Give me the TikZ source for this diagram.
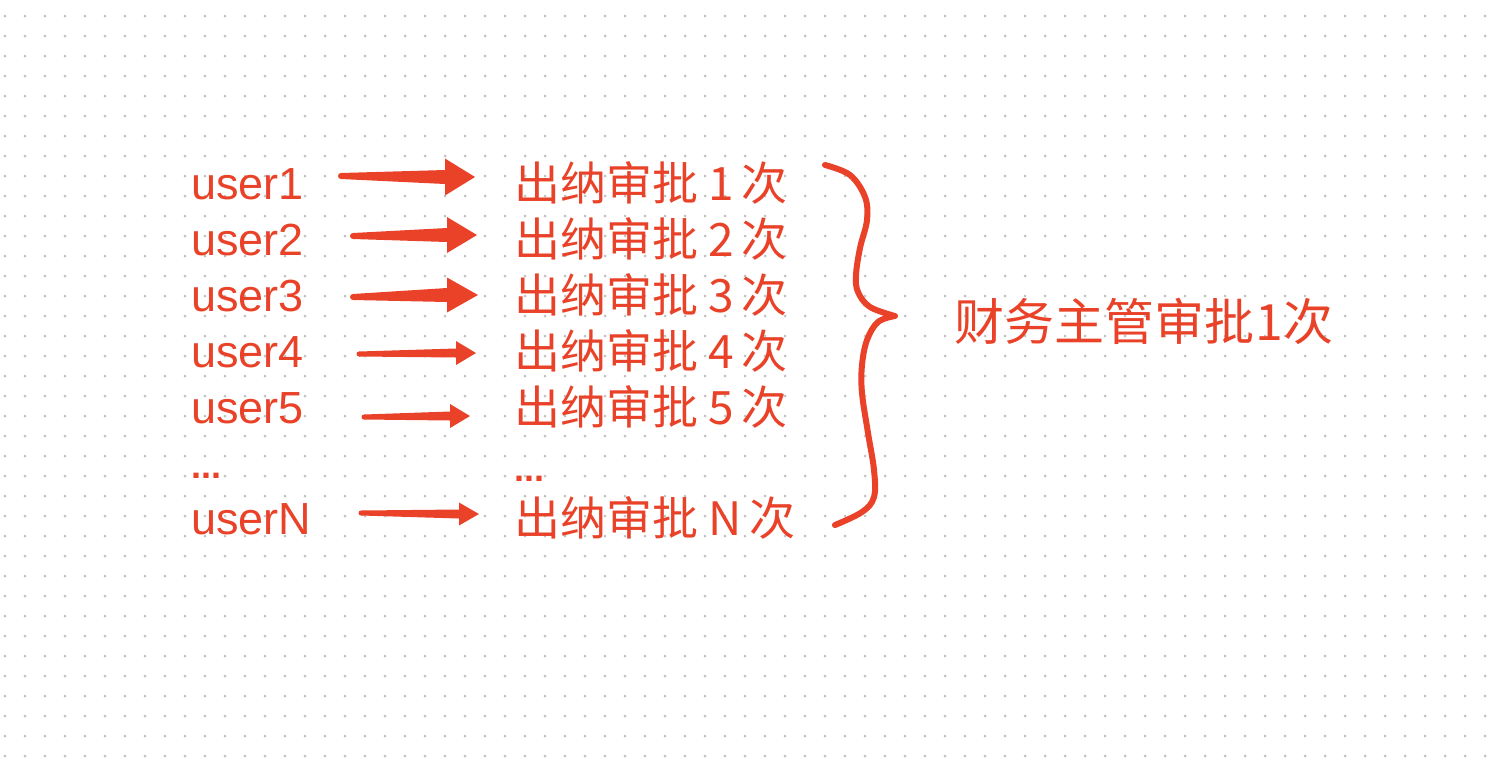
\documentclass[tikz,border=0pt]{standalone}
\usepackage{fontspec}
\setmainfont{Liberation Sans}
\newfontfamily\cjk{Noto Sans CJK SC}
\usetikzlibrary{calc}
\definecolor{accent}{RGB}{233,66,40}
\definecolor{griddot}{RGB}{192,192,192}
\newcommand\taperarrow[6]{% start, tip, start width, shaft width at head, half head height, head length
  \fill[accent] (#1) circle[radius=#3pt/2];
  \fill[accent] let \p1=(#1), \p2=(#2) in
    (\x1,{\y1+#3pt/2}) -- ({\x2-#6pt},{\y2+#4pt/2}) -- ({\x2-#6pt},{\y2+#5pt})
    -- (\x2,\y2) -- ({\x2-#6pt},{\y2-#5pt}) -- ({\x2-#6pt},{\y2-#4pt/2})
    -- (\x1,{\y1-#3pt/2}) -- cycle;
}
\tikzset{
  usertxt/.style={text=accent, inner sep=0pt, anchor=base west, font=\fontsize{45}{45}\selectfont},
  cjktxt/.style={text=accent, inner sep=0pt, anchor=base west, font=\cjk\fontsize{46}{46}\selectfont},
  bigtxt/.style={text=accent, inner sep=0pt, anchor=base west, font=\cjk\fontsize{50}{50}\selectfont},
  dotstxt/.style={text=accent, inner sep=0pt, anchor=base west, font=\bfseries\fontsize{36}{36}\selectfont},
  bracestroke/.style={draw=accent, line width=6pt, line cap=round, line join=round}
}
\begin{document}
\begin{tikzpicture}[x=1pt,y=-1pt]
\useasboundingbox (0,0) rectangle (1498,764);
\fill[white] (0,0) rectangle (1498,764);
\foreach \i in {0,...,74}{\foreach \j in {0,...,37}{\fill[griddot] (5+20*\i,16+20*\j) circle[radius=1.5pt];}}

% left column
\node[usertxt] (u1) at (191,199) {user1};
\node[usertxt] (u2) at (191,255) {user2};
\node[usertxt] (u3) at (191,311) {user3};
\node[usertxt] (u4) at (191,367) {user4};
\node[usertxt] (u5) at (191,423) {user5};
\node[dotstxt] (ud) at (191,478) {...};
\node[usertxt] (uN) at (191,534) {userN};

% right column
\node[cjktxt] (c1) at (514,200) {出纳审批\hspace{10pt}1\hspace{8pt}次};
\node[cjktxt] (c2) at (514,256) {出纳审批\hspace{10pt}2\hspace{8pt}次};
\node[cjktxt] (c3) at (514,312) {出纳审批\hspace{10pt}3\hspace{8pt}次};
\node[cjktxt] (c4) at (514,368) {出纳审批\hspace{10pt}4\hspace{8pt}次};
\node[cjktxt] (c5) at (514,424) {出纳审批\hspace{10pt}5\hspace{8pt}次};
\node[dotstxt] (cd) at (514,481) {...};
\node[cjktxt] (cN) at (514,535) {出纳审批\hspace{10pt}N\hspace{8pt}次};

% summary
\node[bigtxt] (boss) at (954,340) {财务主管审批\hspace{1pt}1\hspace{1pt}次};

% arrow end points
\coordinate (a1s) at (341,176); \coordinate (a1e) at (475,177);
\coordinate (a2s) at (353,236); \coordinate (a2e) at (477,235);
\coordinate (a3s) at (353,297); \coordinate (a3e) at (478,295);
\coordinate (a4s) at (359,354); \coordinate (a4e) at (476,353);
\coordinate (a5s) at (364,417); \coordinate (a5e) at (470,416);
\coordinate (aNs) at (361,513); \coordinate (aNe) at (479,514);

\taperarrow{a1s}{a1e}{6}{14}{18.5}{30}
\taperarrow{a2s}{a2e}{6}{14}{18}{30}
\taperarrow{a3s}{a3e}{6}{14}{17.5}{31}
\taperarrow{a4s}{a4e}{5}{9}{12}{20}
\taperarrow{a5s}{a5e}{5}{9}{12}{20}
\taperarrow{aNs}{aNe}{5}{9}{11.5}{20}

% brace
\draw[bracestroke] plot[smooth, tension=0.6] coordinates {(825,165) (850,175) (865,197) (867,220) (860,248) (856,275) (858,292) (870,307) (895,316)}
  -- plot[smooth, tension=0.6] coordinates {(895,316) (878,322) (867,340) (862,365) (862,393) (868,433) (874,470) (874,497) (862,512) (835,525)};
\end{tikzpicture}
\end{document}
